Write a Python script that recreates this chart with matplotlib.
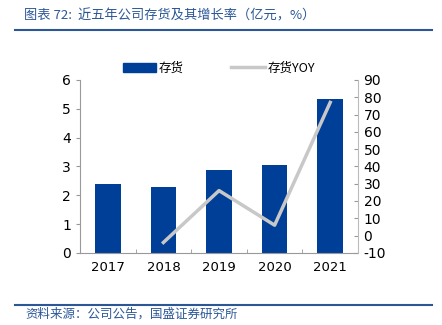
import numpy as np
import matplotlib.pyplot as plt
from matplotlib.lines import Line2D

plt.rcParams['font.family'] = ['DejaVu Sans', 'Noto Sans CJK SC']
plt.rcParams['axes.unicode_minus'] = False

# 数据
years = ['2017', '2018', '2019', '2020', '2021']
inventory = [2.40, 2.30, 2.88, 3.05, 5.35]      # 存货（亿元）
yoy_years = ['2018', '2019', '2020', '2021']
yoy = [-4, 26, 6, 77]                             # 存货YOY（%）

bar_color = '#003F98'
line_color = '#C8C8C8'
blue = '#2B5797'
cjk = ['Noto Sans CJK SC', 'DejaVu Sans']

fig = plt.figure(figsize=(4.42, 3.25), dpi=100)
ax = fig.add_axes([0.181, 0.222, 0.629, 0.532])

x = np.arange(len(years))
ax.bar(x, inventory, width=0.46, color=bar_color, zorder=2)
ax.set_ylim(0, 6)
ax.set_yticks(range(0, 7))
ax.set_xlim(-0.5, len(years) - 0.5)
ax.set_xticks(x)
ax.set_xticklabels(years)
ax.set_xticks(np.arange(0.5, len(years) - 1, 1), minor=True)
ax.tick_params(axis='x', which='major', length=0, pad=6, labelsize=9.5)
ax.tick_params(axis='x', which='minor', direction='in', length=3, color='#999999')
ax.tick_params(axis='y', length=3, direction='out', color='#999999', labelsize=10)
for s in ['top', 'right']:
    ax.spines[s].set_visible(False)
for s in ['left', 'bottom']:
    ax.spines[s].set_color('#999999')

ax2 = ax.twinx()
xi = [years.index(y) for y in yoy_years]
ax2.plot(xi, yoy, color=line_color, linewidth=2.5, zorder=3)
ax2.set_ylim(-10, 90)
ax2.set_yticks(range(-10, 91, 10))
ax2.tick_params(axis='y', direction='in', length=3, color='#999999', labelsize=10, pad=4)
for s in ['top', 'left', 'bottom']:
    ax2.spines[s].set_visible(False)
ax2.spines['right'].set_color('#BBBBBB')

# 图例
handles = [plt.Rectangle((0, 0), 1, 1, color=bar_color),
           Line2D([0], [0], color=line_color, linewidth=2.5)]
leg = fig.legend(handles, ['存货', '存货YOY'], loc='center', bbox_to_anchor=(0.495, 0.79),
                 ncol=2, frameon=False, prop={'family': cjk, 'size': 9},
                 handlelength=2.7, handleheight=0.7, columnspacing=3.8, handletextpad=0.2)

# 标题与来源
fig.text(0.055, 0.952, '图表 72:  近五年公司存货及其增长率（亿元，%）', color=blue,
         fontsize=9.5, family=cjk, style='italic', va='center')
fig.add_artist(Line2D([0.035, 0.978], [0.909, 0.909], color=blue, linewidth=1.5))
fig.add_artist(Line2D([0.035, 0.978], [0.062, 0.062], color=blue, linewidth=1.5))
fig.text(0.058, 0.033, '资料来源：公司公告，国盛证券研究所', color=blue,
         fontsize=9, family=cjk, style='italic', va='center')

fig.savefig('out.png', dpi=100)
